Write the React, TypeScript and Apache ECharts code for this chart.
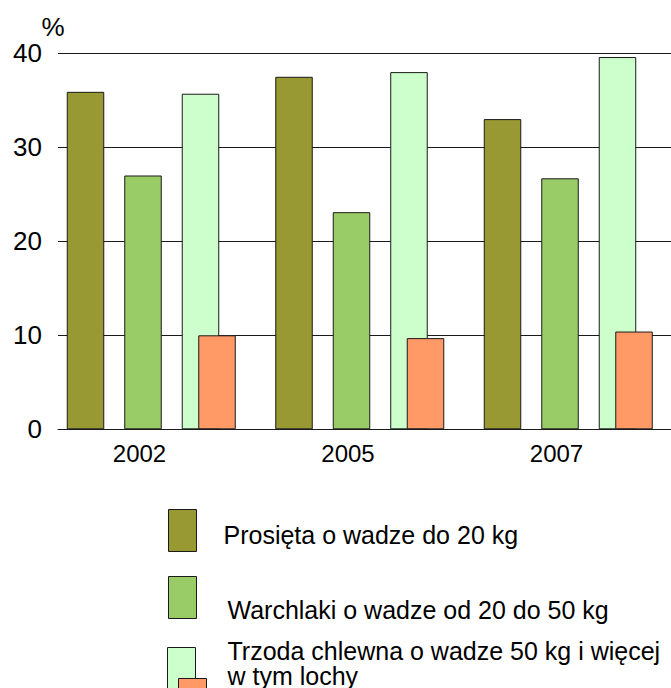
import React, { useEffect, useRef } from "react";
import * as echarts from "echarts";

const years = ["2002", "2005", "2007"];
const prosieta = [35.9, 37.5, 33.0];
const warchlaki = [27.0, 23.1, 26.7];
const trzoda = [35.7, 38.0, 39.6];
const lochy = [10.0, 9.7, 10.4];
const yTicks = { min: 0, max: 40, interval: 10 };

const names = [
  "Prosięta o wadze do 20 kg",
  "Warchlaki o wadze od 20 do 50 kg",
  "Trzoda chlewna o wadze 50 kg i więcej",
  "w tym lochy",
];
const colors = ["#999933", "#99cc66", "#ccffcc", "#ff9966"];

const FONT = "'Liberation Sans', Arial, sans-serif";

export default function App() {
  const ref = useRef<HTMLDivElement>(null);
  useEffect(() => {
    if (!ref.current) return;
    const chart = echarts.init(ref.current, null, { renderer: "svg" });
    const border = { borderColor: "#1a1a1a", borderWidth: 1 };
    const top = 53.3;
    const bottom = 258.7;
    const legendBase = {
      orient: "vertical" as const,
      padding: 0,
      itemWidth: 28,
      itemHeight: 42,
      icon: "rect",
      selectedMode: false,
      itemStyle: { borderColor: "#1a1a1a", borderWidth: 1 },
      formatter: (name: string) => `{t|${name}}`,
    };
    const legendText = (pad: number[]) => ({
      color: "#000",
      fontSize: 25,
      fontFamily: FONT,
      rich: {
        t: { color: "#000", fontSize: 25, fontFamily: FONT, padding: pad },
      },
    });
    chart.setOption({
      animation: false,
      backgroundColor: "#fff",
      grid: [
        { left: 38.75, right: 6.75, top, bottom },
        { left: 58, right: 0, top, bottom },
      ],
      xAxis: [
        {
          type: "category",
          gridIndex: 0,
          data: years,
          axisLine: { show: false },
          axisTick: { show: false },
          axisLabel: {
            color: "#000",
            fontSize: 24,
            fontFamily: FONT,
            margin: 12,
            padding: [0, 7, 0, 0],
          },
        },
        {
          type: "category",
          gridIndex: 0,
          data: years,
          show: false,
        },
        {
          type: "value",
          gridIndex: 1,
          min: 0,
          max: 1,
          axisLine: { show: true, onZero: false, lineStyle: { color: "#1a1a1a", width: 1 } },
          axisTick: { show: false },
          axisLabel: { show: false },
          splitLine: { show: false },
        },
      ],
      yAxis: [
        {
          type: "value",
          gridIndex: 0,
          min: yTicks.min,
          max: yTicks.max,
          interval: yTicks.interval,
          show: false,
        },
        {
          type: "value",
          gridIndex: 1,
          min: yTicks.min,
          max: yTicks.max,
          interval: yTicks.interval,
          name: "%",
          nameLocation: "end",
          nameGap: 13,
          nameTextStyle: { color: "#000", fontSize: 26, fontFamily: FONT, padding: [0, 10, 0, 0] },
          axisLine: { show: false },
          axisTick: { show: false },
          axisLabel: { color: "#000", fontSize: 26, fontFamily: FONT, margin: 16 },
          splitLine: { show: true, lineStyle: { color: "#1a1a1a", width: 1 } },
        },
      ],
      legend: [
        { ...legendBase, left: 168, top: 509, data: [names[0]], textStyle: legendText([8, 0, 0, 22]) },
        { ...legendBase, left: 168, top: 576, data: [names[1]], textStyle: legendText([24, 0, 0, 26]) },
        { ...legendBase, left: 167, top: 638, data: [names[2]], textStyle: legendText([0, 0, 36, 27]) },
        { ...legendBase, left: 178, top: 663, data: [names[3]], textStyle: legendText([0, 0, 48, 16]) },
      ],
      series: [
        {
          name: names[0],
          type: "bar",
          xAxisIndex: 0,
          yAxisIndex: 0,
          data: prosieta,
          barWidth: 37.5,
          barGap: "53.3%",
          itemStyle: { color: colors[0], ...border },
        },
        {
          name: names[1],
          type: "bar",
          xAxisIndex: 0,
          yAxisIndex: 0,
          data: warchlaki,
          barWidth: 37.5,
          barGap: "53.3%",
          itemStyle: { color: colors[1], ...border },
        },
        {
          name: names[2],
          type: "bar",
          xAxisIndex: 0,
          yAxisIndex: 0,
          data: trzoda,
          barWidth: 37.5,
          barGap: "53.3%",
          itemStyle: { color: colors[2], ...border },
        },
        {
          name: "_spacer",
          type: "bar",
          xAxisIndex: 1,
          yAxisIndex: 0,
          data: ["-", "-", "-"],
          barWidth: 37.5,
          barGap: "294.7%",
          itemStyle: { color: "transparent" },
        },
        {
          name: names[3],
          type: "bar",
          xAxisIndex: 1,
          yAxisIndex: 0,
          data: lochy,
          barWidth: 37.5,
          barGap: "294.7%",
          itemStyle: { color: colors[3], ...border },
        },
      ],
    });
    return () => chart.dispose();
  }, []);
  return (
    <div
      ref={ref}
      style={{ position: "fixed", left: 0, top: 0, width: 671, height: 688 }}
    />
  );
}
